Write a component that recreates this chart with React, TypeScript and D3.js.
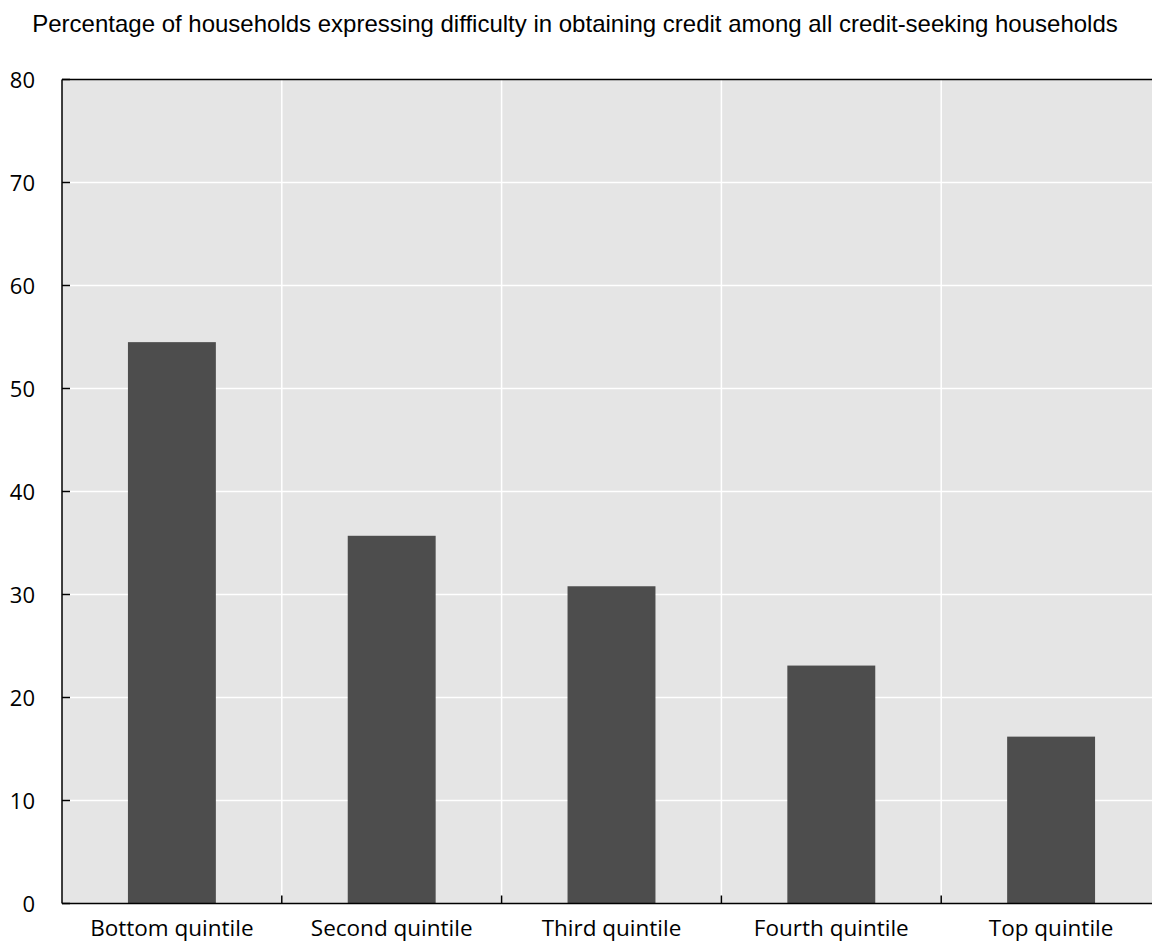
import React from "react";
import * as d3 from "d3";

const categories = ["Bottom quintile", "Second quintile", "Third quintile", "Fourth quintile", "Top quintile"];
const values = [54.5, 35.7, 30.8, 23.1, 16.2];
const yTicks = [0, 10, 20, 30, 40, 50, 60, 70, 80];
const title = "Percentage of households expressing difficulty in obtaining credit among all credit-seeking households";

export default function App() {
  const W = 1152, H = 943;
  const left = 62, right = 1161, top = 79.5, bottom = 903.5;
  const x = d3.scaleBand<string>().domain(categories).range([left, right]).paddingInner(0).paddingOuter(0);
  const y = d3.scaleLinear().domain([0, 80]).range([bottom, top]);
  const bw = x.bandwidth() * 0.4;
  const labelFont = "'Open Sans', sans-serif";
  return (
    <svg width={W} height={H} style={{ position: "absolute", left: 0, top: 0 }}>
      <rect x={left} y={top} width={right - left} height={bottom - top} fill="#e5e5e5" />
      {yTicks.slice(1, -1).map((t) => (
        <line key={"g" + t} x1={left} x2={right} y1={y(t)} y2={y(t)} stroke="#fff" strokeWidth={1.5} />
      ))}
      {categories.slice(1).map((c) => (
        <line key={"v" + c} x1={x(c)!} x2={x(c)!} y1={top} y2={bottom} stroke="#fff" strokeWidth={1.5} />
      ))}
      {categories.map((c, i) => (
        <rect key={c} x={x(c)! + (x.bandwidth() - bw) / 2} y={y(values[i])} width={bw} height={bottom - y(values[i])} fill="#4d4d4d" />
      ))}
      <line x1={left} x2={right} y1={top} y2={top} stroke="#000" strokeWidth={1.5} />
      <line x1={left} x2={right} y1={bottom} y2={bottom} stroke="#000" strokeWidth={1.5} />
      <line x1={left} x2={left} y1={top} y2={bottom} stroke="#000" strokeWidth={1.5} />
      {yTicks.map((t) => (
        <g key={"t" + t}>
          <line x1={left} x2={left + 8} y1={y(t)} y2={y(t)} stroke="#000" strokeWidth={1.5} />
          <text x={35} y={y(t) + 1} dy="0.35em" textAnchor="end" fontFamily={labelFont} fontSize={22} fill="#000">{t}</text>
        </g>
      ))}
      {categories.slice(1).map((c) => (
        <line key={"xt" + c} x1={x(c)!} x2={x(c)!} y1={bottom - 8} y2={bottom} stroke="#000" strokeWidth={1.5} />
      ))}
      {categories.map((c) => (
        <text key={"xl" + c} x={x(c)! + x.bandwidth() / 2} y={936} textAnchor="middle" fontFamily={labelFont} fontSize={22.5} fill="#000">{c}</text>
      ))}
      <text x={575} y={32} textAnchor="middle" fontFamily="'Liberation Sans', Arial, sans-serif" fontSize={24} fill="#000">{title}</text>
    </svg>
  );
}
